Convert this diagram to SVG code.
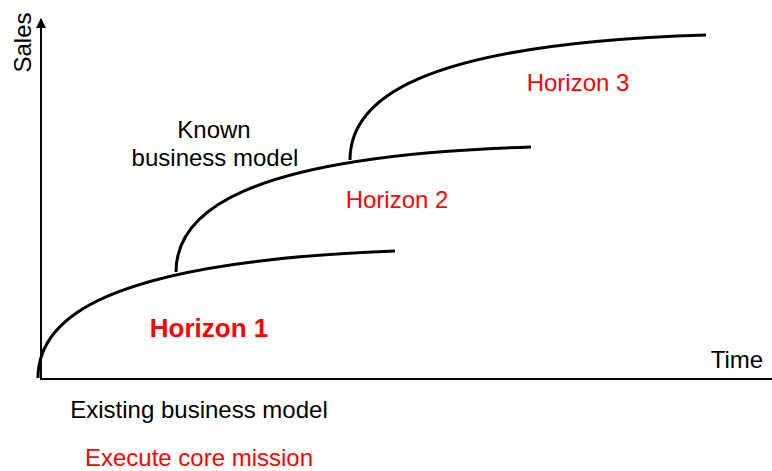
<svg xmlns="http://www.w3.org/2000/svg" width="772" height="471" viewBox="0 0 772 471">
<defs>
<style>
.t{font-family:"Liberation Sans",Arial,sans-serif;font-size:24px;fill:#000}
.r{fill:#ff0000}
.c{fill:none;stroke:#000;stroke-width:3;stroke-linecap:butt}
.ax{fill:none;stroke:#000;stroke-width:2}
</style>
<marker id="ah" viewBox="0 0 10 10" refX="9" refY="5" markerWidth="5" markerHeight="5" orient="auto" markerUnits="strokeWidth">
<path d="M0,0 L10,5 L0,10 z" fill="#000"/>
</marker>
</defs>
<rect width="772" height="471" fill="#fff"/>
<g id="axes">
<line class="ax" x1="41" y1="379" x2="41" y2="19" marker-end="url(#ah)"/>
<line class="ax" x1="40" y1="379" x2="772" y2="379"/>
<text class="t" transform="translate(31,42.5) rotate(-90)" text-anchor="middle">Sales</text>
<text class="t" x="737" y="368" text-anchor="middle">Time</text>
</g>
<g id="connectors">
<path id="curve1" class="c" d="M38,378 C38,320 100,262 395,251"/>
<path id="curve2" class="c" d="M176,272 C176,214 238,156 531,147"/>
<path id="curve3" class="c" d="M350,160 C350,102 412,44 706,35"/>
</g>
<g id="horizon1"><text class="t r" x="209" y="337" text-anchor="middle" style="font-weight:bold;font-size:26px">Horizon 1</text></g>
<g id="horizon2"><text class="t r" x="397" y="208" text-anchor="middle">Horizon 2</text></g>
<g id="horizon3"><text class="t r" x="578" y="91" text-anchor="middle">Horizon 3</text></g>
<g id="known"><text class="t" x="214" y="138" text-anchor="middle">Known</text><text class="t" x="215" y="166" text-anchor="middle">business model</text></g>
<g id="existing"><text class="t" x="199" y="418" text-anchor="middle">Existing business model</text></g>
<g id="execute"><text class="t r" x="199" y="466" text-anchor="middle">Execute core mission</text></g>
</svg>
